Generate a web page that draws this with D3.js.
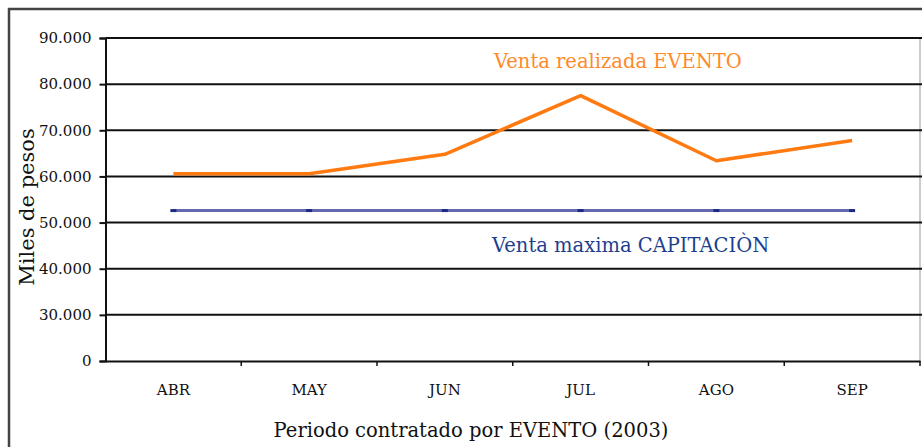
<!DOCTYPE html>
<html lang="es">
<head>
<meta charset="UTF-8">
<title>Venta realizada vs Venta maxima</title>
<style>
  body { margin: 0; background: #fff; }
  svg { display: block; }
</style>
</head>
<body>
<script src="https://cdn.jsdelivr.net/npm/d3@7"></script>
<script>
const W = 922, H = 447;
const FONT = '"DejaVu Serif", "Liberation Serif", serif';

// data
const months = ['ABR', 'MAY', 'JUN', 'JUL', 'AGO', 'SEP'];
const ventaRealizada = [60600, 60600, 64800, 77500, 63400, 67800];
const ventaMaxima = [52600, 52600, 52600, 52600, 52600, 52600];
const yTicks = [0, 30000, 40000, 50000, 60000, 70000, 80000, 90000];
const yTickLabels = ['0', '30.000', '40.000', '50.000', '60.000', '70.000', '80.000', '90.000'];

const plotLeft = 105.5, plotRight = 920, plotTop = 38, plotBottom = 361;

const svg = d3.select('body').append('svg')
  .attr('width', W)
  .attr('height', H)
  .style('font-family', FONT);

// outer frame (extends past the bottom / right of the picture)
svg.append('rect')
  .attr('x', 9).attr('y', 9)
  .attr('width', W + 20).attr('height', H + 20)
  .attr('fill', 'none')
  .attr('stroke', '#444')
  .attr('stroke-width', 2.5);

// broken axis: 0 sits one step below 30.000
const y = d3.scaleLinear()
  .domain([0, 30000, 90000])
  .range([plotBottom, plotBottom - (plotBottom - plotTop) / 7, plotTop]);

const x = d3.scaleBand()
  .domain(months)
  .range([plotLeft, plotRight]);

const cx = d => x(d) + x.bandwidth() / 2;

// plot area right border
svg.append('line')
  .attr('x1', plotRight).attr('x2', plotRight)
  .attr('y1', plotTop).attr('y2', plotBottom)
  .attr('stroke', '#999').attr('stroke-width', 1);

// gridlines
svg.append('g')
  .selectAll('line')
  .data(yTicks.slice(1))
  .join('line')
  .attr('x1', plotLeft).attr('x2', plotRight + 2)
  .attr('y1', d => y(d)).attr('y2', d => y(d))
  .attr('stroke', '#111')
  .attr('stroke-width', 2);

// y axis
const yAxis = d3.axisLeft(y)
  .tickValues(yTicks)
  .tickFormat((d, i) => yTickLabels[i])
  .tickSize(6)
  .tickPadding(8);

svg.append('g')
  .attr('transform', `translate(${plotLeft},0)`)
  .call(yAxis)
  .attr('font-family', FONT)
  .call(g => g.select('.domain').attr('stroke', '#111').attr('stroke-width', 2))
  .call(g => g.selectAll('.tick line').attr('stroke', '#111').attr('stroke-width', 2))
  .call(g => g.selectAll('.tick text')
    .attr('font-size', 15)
    .attr('fill', '#111'));

// x axis (ticks on band edges)
const xAxis = d3.axisBottom(x).tickSize(0).tickPadding(23);

const gx = svg.append('g')
  .attr('transform', `translate(0,${plotBottom})`)
  .call(xAxis)
  .attr('font-family', FONT)
  .call(g => g.select('.domain').attr('stroke', '#111').attr('stroke-width', 2))
  .call(g => g.selectAll('.tick text')
    .attr('font-size', 15)
    .attr('fill', '#111'));

gx.selectAll('.edge')
  .data(months.slice(1).concat(['end']))
  .join('line')
  .attr('class', 'edge')
  .attr('x1', d => d === 'end' ? plotRight : x(d))
  .attr('x2', d => d === 'end' ? plotRight : x(d))
  .attr('y1', 0).attr('y2', 5)
  .attr('stroke', '#111').attr('stroke-width', 1.5);

// lines
const line = d3.line()
  .x((d, i) => cx(months[i]))
  .y(d => y(d));

svg.append('path')
  .datum(ventaMaxima)
  .attr('d', line)
  .attr('fill', 'none')
  .attr('stroke', '#6468ad')
  .attr('stroke-width', 3);

svg.append('g')
  .selectAll('rect')
  .data(ventaMaxima)
  .join('rect')
  .attr('x', (d, i) => cx(months[i]) - 3)
  .attr('y', d => y(d) - 1.5)
  .attr('width', 6).attr('height', 3)
  .attr('fill', '#1c2a86');

svg.append('path')
  .datum(ventaRealizada)
  .attr('d', line)
  .attr('fill', 'none')
  .attr('stroke', '#ff7a10')
  .attr('stroke-width', 3.5)
  .attr('stroke-linejoin', 'round');

// series labels
svg.append('text')
  .attr('x', 494).attr('y', 68)
  .attr('font-size', 19.5)
  .attr('fill', '#ff8a2a')
  .text('Venta realizada EVENTO');

svg.append('text')
  .attr('x', 492).attr('y', 252)
  .attr('font-size', 19.5)
  .attr('fill', '#1d3f8f')
  .text('Venta maxima CAPITACIÒN');

// axis titles
svg.append('text')
  .attr('transform', `translate(34,207) rotate(-90)`)
  .attr('text-anchor', 'middle')
  .attr('font-size', 21)
  .attr('fill', '#111')
  .text('Miles de pesos');

svg.append('text')
  .attr('x', 471).attr('y', 437)
  .attr('text-anchor', 'middle')
  .attr('font-size', 19.5)
  .attr('fill', '#111')
  .text('Periodo contratado por EVENTO (2003)');
</script>
</body>
</html>
